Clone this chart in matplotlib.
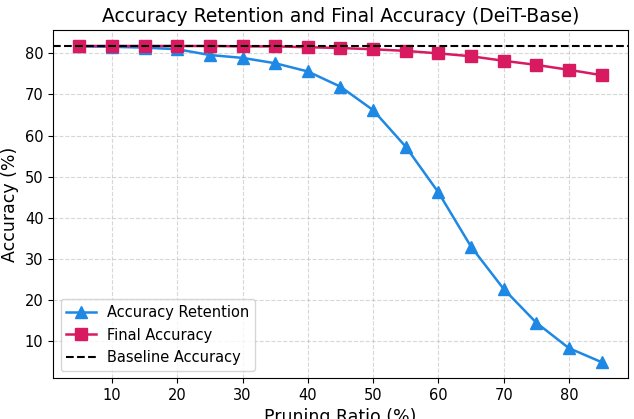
import matplotlib
matplotlib.use("Agg")
import matplotlib.pyplot as plt

pruning_ratio = [5, 10, 15, 20, 25, 30, 35, 40, 45, 50, 55, 60, 65, 70, 75, 80, 85]
acc_retention = [81.7, 81.6, 81.4, 81.0, 79.6, 78.9, 77.6, 75.6, 71.9, 66.2,
                 57.3, 46.2, 33.0, 22.7, 14.5, 8.3, 4.9]
final_acc = [81.8, 81.8, 81.8, 81.8, 81.8, 81.7, 81.7, 81.5, 81.3, 81.0,
             80.6, 80.0, 79.3, 78.2, 77.2, 76.0, 74.7]
baseline_acc = 81.8

fig, ax = plt.subplots(figsize=(6.34, 4.19), dpi=100)
fig.subplots_adjust(left=0.084, right=0.99, top=0.928, bottom=0.098)

ax.plot(pruning_ratio, acc_retention, marker="^", markersize=8, color="#1E88E5",
        linewidth=1.8, label="Accuracy Retention")
ax.plot(pruning_ratio, final_acc, marker="s", markersize=8, color="#D81B60",
        linewidth=1.8, label="Final Accuracy")
ax.axhline(baseline_acc, color="black", linestyle="--", linewidth=1.5,
           label="Baseline Accuracy")

ax.set_title("Accuracy Retention and Final Accuracy (DeiT-Base)", fontsize=13.5)
ax.set_xlabel("Pruning Ratio (%)", fontsize=12.5)
ax.set_ylabel("Accuracy (%)", fontsize=12.5)
ax.tick_params(labelsize=10.5)
ax.grid(True, linestyle="--", alpha=0.5)
ax.legend(loc="lower left", fontsize=10.5)

fig.savefig("out.png", dpi=100)
